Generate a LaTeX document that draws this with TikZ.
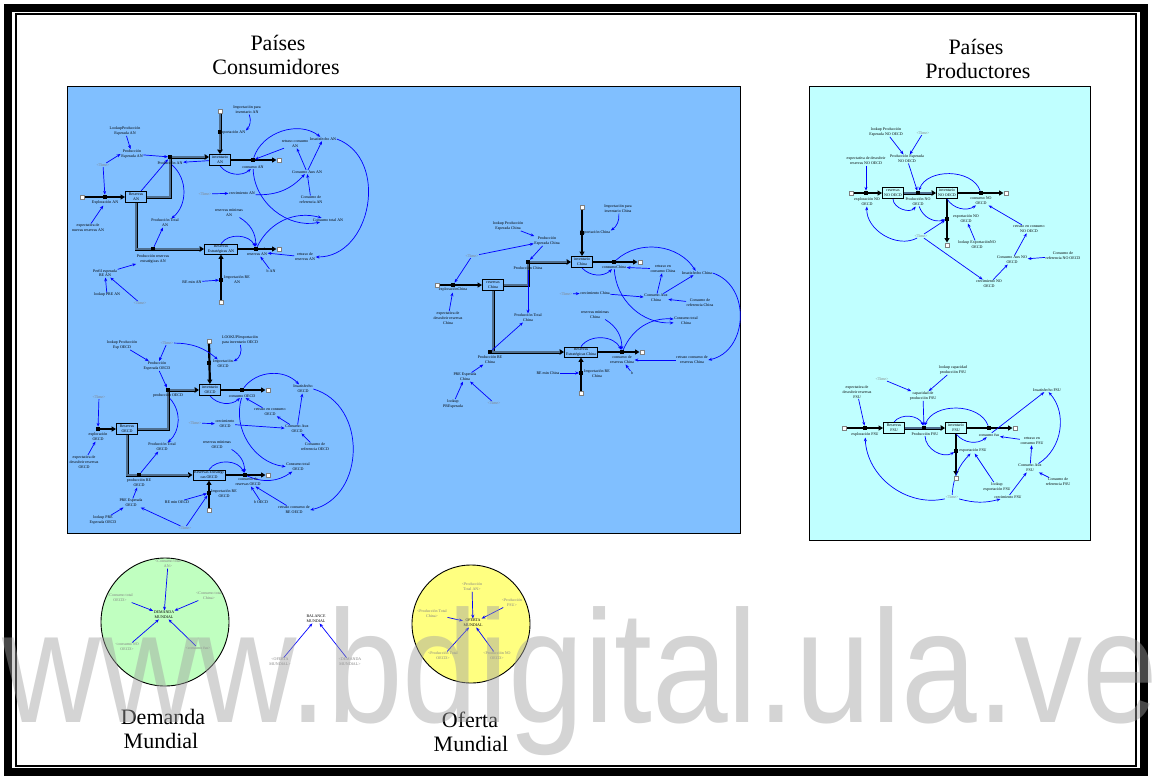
\documentclass[tikz,border=0pt]{standalone}
\usepackage{fontspec}
\setmainfont{Liberation Serif}
\newfontfamily\wmfont{Liberation Sans}
\usetikzlibrary{arrows.meta}
\definecolor{panelblue}{HTML}{80BFFF}
\definecolor{panelcyan}{HTML}{C0FFFF}
\definecolor{circgreen}{HTML}{C0FFC0}
\definecolor{circyellow}{HTML}{FFFF80}
\definecolor{linkblue}{HTML}{0000FF}
\definecolor{pipegray}{HTML}{4F6F90}
\definecolor{shadowgray}{HTML}{808080}
\definecolor{wmgray}{HTML}{A0A0A0}
\newcommand\tinyfont{\fontsize{4}{4.8}\selectfont}
\pgfdeclarelayer{back}
\pgfdeclarelayer{mid}
\pgfsetlayers{back,mid,main}
\tikzset{
 lbl/.style={font=\tinyfont, align=center, inner sep=0.5pt, text=black},
 glbl/.style={lbl, text=shadowgray},
 stock/.style={draw=black, line width=0.9pt, fill=panelblue, minimum width=21pt, minimum height=11pt, inner sep=0pt, font=\tinyfont, align=center},
 stockc/.style={stock, fill=panelcyan},
 valve/.style={fill=black, minimum width=3.5pt, minimum height=4.2pt, inner sep=0pt},
 cloudbox/.style={draw=gray, line width=0.5pt, fill=white, minimum size=4.5pt, inner sep=0pt},
 pipe/.style={draw=black, line width=2.2pt, -{Triangle[length=4.5pt,width=5pt]}},
 pipeg/.style={draw=black, line width=3pt, -{Triangle[length=4.5pt,width=5.5pt]}, postaction={draw=pipegray, line width=1.2pt, arrows=-, shorten >=4pt}},
 link/.style={draw=linkblue, line width=0.7pt, -{Stealth[length=3.8pt,width=3pt]}},
 title/.style={font=\fontsize{22}{24}\selectfont, inner sep=0pt, anchor=base},
 circ/.style={circle, draw=black, line width=0.9pt, inner sep=0pt},
}
\begin{document}
\begin{tikzpicture}[x=1pt,y=-1pt]
\useasboundingbox (0,0) rectangle (1152,780);
\begin{pgfonlayer}{back}
\fill[white] (0,0) rectangle (1152,780);
\draw[line width=8pt] (8,8) rectangle (1144,772);
\draw[line width=1.5pt] (16,14) rectangle (1136,766);
\draw[fill=panelblue, line width=0.6pt] (67,86) rectangle (740,533);
\draw[fill=panelcyan, line width=0.6pt] (809,86) rectangle (1090,540);
\node[circ, fill=circgreen, minimum size=128pt] (circD) at (165,622) {};
\node[circ, fill=circyellow, minimum size=118pt] (circO) at (471,624) {};
\end{pgfonlayer}

% titles
\node[title] (tCons1) at (278,50) {Países};
\node[title] (tCons2) at (276,74) {Consumidores};
\node[title] (tProd1) at (976,54) {Países};
\node[title] (tProd2) at (978,78) {Productores};
\node[title] (tDem1) at (163,724) {Demanda};
\node[title] (tDem2) at (161,748) {Mundial};
\node[title] (tOf1) at (470,727) {Oferta};
\node[title] (tOf2) at (471,751) {Mundial};

% ================= AN =================
\node[stock] (invAN) at (220,160) {inventario\\AN};
\node[stock] (resAN) at (136,197) {Reservas\\AN};
\node[stock, minimum width=33pt, minimum height=10pt] (reAN) at (221,249) {Reservas\\Estratégicas AN};
\node[cloudbox] (cAN1) at (82,197) {};
\node[cloudbox] (cAN2) at (220,111) {};
\node[cloudbox] (cAN3) at (279,160) {};
\node[cloudbox] (cAN4) at (279,249) {};
\node[cloudbox] (cAN5) at (221,302) {};
\node[valve] (vExpAN) at (105,197) {};
\node[valve] (vProdAN) at (170,157) {};
\node[valve] (vImpAN) at (220,132) {};
\node[valve] (vConsAN) at (253,160) {};
\node[valve] (vPREAN) at (153,249) {};
\node[valve] (vImpREAN) at (221,280) {};
\node[valve] (vConsREAN) at (256,249) {};
\node[lbl] (impParaInvAN) at (247,110) {Importación para\\inventario AN};
\node[lbl] (lImpAN) at (232,133) {Importación AN};
\node[lbl] (lookupPEAN) at (125,131) {LookupProducción\\Esperada AN};
\node[lbl] (peAN) at (132,154) {Producción\\Esperada AN};
\node[glbl] (timeA1) at (103,165) {<Time>};
\node[lbl] (lExpAN) at (105,203) {Exploración AN};
\node[lbl] (expectAN) at (88,228) {expectativa de\\nuevas reservas AN};
\node[lbl] (lProdAN) at (170,163) {Producción AN};
\node[lbl] (prodTotAN) at (165,223) {Producción Total\\AN};
\node[lbl] (lPREAN) at (153,259) {Producción reservas\\estratégicas AN};
\node[lbl] (perfilREAN) at (105,273) {Perfil esperada\\RE AN};
\node[lbl] (lookupPREAN) at (107,295) {lookup PRE AN};
\node[glbl] (timeA2) at (140,303) {<Time>};
\node[lbl] (lImpREAN) at (237,280) {Importación RE\\AN};
\node[lbl] (REminAN) at (192,282) {RE min AN};
\node[lbl] (resMinAN) at (229,213) {reservas mínimas\\AN};
\node[glbl] (timeA3) at (205,194) {<Time>};
\node[lbl] (crecAN) at (242,193) {crecimiento AN};
\node[lbl] (lConsAN) at (253,167) {consumo AN};
\node[lbl] (retConsAN) at (295,144) {retraso consumo\\AN};
\node[lbl] (insatAN) at (323,139) {Insatisfecho AN};
\node[lbl] (consAuxAN) at (307,172) {Consumo Aux AN};
\node[lbl] (consRefAN) at (311,200) {Consumo de\\referencia AN};
\node[lbl] (consTotAN) at (328,220) {Consumo total AN};
\node[lbl] (lConsREAN) at (257,252) {consumo de\\reservas AN};
\node[lbl] (retResAN) at (305,257) {retraso de\\reservas AN};
\node[lbl] (bAN) at (271,271) {b AN};

% ================= OECD =================
\node[stock] (invO) at (210,390) {inventario\\OECD};
\node[stock] (resO) at (127,429) {Reservas\\OECD};
\node[stock, minimum width=32pt, minimum height=10pt] (reO) at (209,475) {Reservas Estratégi\\cas OECD};
\node[cloudbox] (cO2) at (209,341) {};
\node[cloudbox] (cO3) at (268,390) {};
\node[cloudbox] (cO4) at (268,475) {};
\node[cloudbox] (cO5) at (209,510) {};
\node[valve] (vExpO) at (98,429) {};
\node[valve] (vProdO) at (168,390) {};
\node[valve] (vImpO) at (209,363) {};
\node[valve] (vConsO) at (242,390) {};
\node[valve] (vPREO) at (139,475) {};
\node[valve] (vImpREO) at (209,493) {};
\node[valve] (vConsREO) at (245,475) {};
\node[lbl] (lookupPEO) at (122,345) {lookup Producción\\Esp OECD};
\node[glbl] (timeO1) at (167,343) {<Time>};
\node[lbl] (peO) at (157,366) {Producción\\Esperada OECD};
\node[lbl] (lImpO) at (223,364) {Importación\\OECD};
\node[lbl] (lookupImpO) at (240,340) {LOOKUPImportación\\para inventario OECD};
\node[lbl] (lProdO) at (168,396) {producción OECD};
\node[glbl] (timeO2) at (99,397) {<Time>};
\node[lbl] (lExpO) at (98,437) {exploración\\OECD};
\node[lbl] (expectO) at (84,462) {expectativa de\\descubrir reservas\\OECD};
\node[lbl] (prodTotO) at (162,447) {Producción Total\\OECD};
\node[lbl] (lPREO) at (139,483) {producción RE\\OECD};
\node[lbl] (PREO) at (131,503) {PRE Esperada\\OECD};
\node[lbl] (lookupPREO) at (103,520) {lookup PRE\\Esperada OECD};
\node[glbl] (timeO3) at (185,528) {<Time>};
\node[lbl] (lImpREO) at (224,494) {Importación RE\\OECD};
\node[lbl] (REminO) at (177,502) {RE min OECD};
\node[lbl] (resMinO) at (217,445) {reservas mínimas\\OECD};
\node[glbl] (timeO4) at (195,423) {<Time>};
\node[lbl] (crecO) at (225,424) {crecimiento\\OECD};
\node[lbl] (lConsO) at (242,396) {consumo OECD};
\node[lbl] (insatO) at (303,389) {Insatisfecho\\OECD};
\node[lbl] (retConsO) at (270,412) {retraso en consumo\\OECD};
\node[lbl] (consAuxO) at (297,429) {Consumo Aux\\OECD};
\node[lbl] (consRefO) at (315,447) {Consumo de\\referencia OECD};
\node[lbl] (consTotO) at (298,467) {Consumo total\\OECD};
\node[lbl] (lConsREO) at (248,482) {consumo de\\reservas OECD};
\node[lbl] (bO) at (261,502) {b OECD};
\node[lbl] (retResO) at (294,510) {retraso consumo de\\RE OECD};

% ================= China =================
\node[stock] (invC) at (582,262) {inventario\\China};
\node[stock] (resC) at (493,285) {reservas\\China};
\node[stock, minimum width=33pt, minimum height=10pt] (reC) at (581,352) {Reservas\\Estratégicas China};
\node[cloudbox] (cC1) at (437,285) {};
\node[cloudbox] (cC2) at (582,207) {};
\node[cloudbox] (cC3) at (640,262) {};
\node[cloudbox] (cC4) at (642,352) {};
\node[cloudbox] (cC5) at (581,393) {};
\node[valve] (vExpC) at (453,285) {};
\node[valve] (vProdC) at (528,262) {};
\node[valve] (vImpC) at (582,233) {};
\node[valve] (vConsC) at (614,262) {};
\node[valve] (vPREC) at (490,352) {};
\node[valve] (vImpREC) at (581,373) {};
\node[valve] (vConsREC) at (622,352) {};
\node[lbl] (lookupPEC) at (508,226) {lookup Producción\\Esperada China};
\node[lbl] (PEC) at (547,241) {Producción\\Esperada China};
\node[glbl] (timeC1) at (472,256) {<Time>};
\node[lbl] (lExpC) at (453,290) {exploraciónChina};
\node[lbl] (expectC) at (448,318) {expectativa de\\descubrir reservas\\China};
\node[lbl] (lProdC) at (528,268) {Producción China};
\node[lbl] (prodTotC) at (528,318) {Producción Total\\China};
\node[lbl] (lPREC) at (490,360) {Producción RE\\China};
\node[lbl] (PREC) at (465,377) {PRE Esperada\\China};
\node[lbl] (lookupPREC) at (453,404) {lookup\\PREsperada};
\node[glbl] (timeC2) at (494,403) {<Time>};
\node[lbl] (REminC) at (548,373) {RE min China};
\node[glbl] (timeC3) at (566,294) {<Time>};
\node[lbl] (crecC) at (595,293) {crecimiento China};
\node[lbl] (impParaInvC) at (618,209) {Importación para\\inventario China};
\node[lbl] (lImpC) at (595,233) {Importación China};
\node[lbl] (lConsC) at (614,267) {consumoChina};
\node[lbl] (retConsC) at (663,269) {retraso en\\consumo China};
\node[lbl] (insatC) at (697,273) {Insatisfecho China};
\node[lbl] (consAuxC) at (656,298) {Consumo Aux\\China};
\node[lbl] (consRefC) at (700,303) {Consumo de\\referencia China};
\node[lbl] (consTotC) at (686,321) {Consumo total\\China};
\node[lbl] (resMinC) at (595,315) {reservas mínimas\\China};
\node[lbl] (lConsREC) at (622,360) {consumo de\\reservas China};
\node[lbl] (retResC) at (692,360) {retraso consumo de\\reservas China};
\node[lbl] (bC) at (632,373) {b};
\node[lbl] (lImpREC) at (597,374) {Importación RE\\China};

% ================= NO OECD =================
\node[stockc] (resN) at (893,193) {reservas\\NO OECD};
\node[stockc] (invN) at (947,193) {inventario\\NO OECD};
\node[cloudbox] (cN1) at (851,193) {};
\node[cloudbox] (cN2) at (1006,193) {};
\node[cloudbox] (cN3) at (947,245) {};
\node[valve] (vExpN) at (866,193) {};
\node[valve] (vProdN) at (918,193) {};
\node[valve] (vConsN) at (981,193) {};
\node[valve] (vExportN) at (947,219) {};
\node[lbl] (lookupPEN) at (886,132) {lookup Producción\\Esperada NO OECD};
\node[glbl] (timeN1) at (923,133) {<Time>};
\node[lbl] (PEN) at (907,159) {Producción Esperada\\NO OECD};
\node[lbl] (expectN) at (866,161) {expectativa de descubrir\\reservas NO OECD};
\node[lbl] (lExpN) at (867,202) {exploración NO\\OECD};
\node[lbl] (lProdN) at (918,202) {Producción NO\\OECD};
\node[glbl] (timeN2) at (921,236) {<Time>};
\node[lbl] (lConsN) at (981,201) {consumo NO\\OECD};
\node[lbl] (lExportN) at (966,219) {exportación NO\\OECD};
\node[lbl] (lookupExpN) at (977,245) {lookup ExportaciónNO\\OECD};
\node[lbl] (retConsN) at (1029,229) {retraso en consumo\\NO OECD};
\node[lbl] (consAuxN) at (1012,260) {Consumo Aux NO\\OECD};
\node[lbl] (consRefN) at (1063,256) {Consumo de\\referencia NO OECD};
\node[lbl] (crecN) at (989,284) {crecimiento NO\\OECD};

% ================= FSU =================
\node[stockc] (resF) at (894,428) {Reservas\\FSU};
\node[stockc] (invF) at (956,428) {inventario\\FSU};
\node[cloudbox] (cF1) at (844,428) {};
\node[cloudbox] (cF2) at (1015,428) {};
\node[cloudbox] (cF3) at (956,478) {};
\node[valve] (vExpF) at (865,428) {};
\node[valve] (vProdF) at (924,428) {};
\node[valve] (vConsF) at (989,428) {};
\node[valve] (vExportF) at (956,451) {};
\node[glbl] (timeF1) at (882,379) {<Time>};
\node[lbl] (lookupCapF) at (953,370) {lookup capacidad\\producción FSU};
\node[lbl] (capF) at (923,396) {capacidad de\\producción FSU};
\node[lbl] (expectF) at (857,392) {expectativa de\\descubrir reservas\\FSU};
\node[lbl] (lExpF) at (865,435) {exploración FSU};
\node[lbl] (lProdF) at (925,434) {Producción FSU};
\node[lbl] (lConsF) at (989,435) {consumo fsu};
\node[lbl] (insatF) at (1047,390) {Insatisfecho FSU};
\node[lbl] (retConsF) at (1032,441) {retraso en\\consumo FSU};
\node[lbl] (consAuxF) at (1030,468) {Consumo Aux\\FSU};
\node[lbl] (consRefF) at (1058,482) {Consumo de\\referencia FSU};
\node[lbl] (lExportF) at (973,451) {exportación FSU};
\node[lbl] (lookupExpF) at (997,487) {lookup\\exportación FSU};
\node[glbl] (timeF2) at (952,497) {<Time>};
\node[lbl] (crecF) at (1008,497) {crecimiento FSU};

% ================= bottom =================
\node[glbl] (ctAN) at (168,564) {<Consumo total\\AN>};
\node[glbl] (ctO) at (120,598) {<Consumo total\\OECD>};
\node[glbl] (ctC) at (209,596) {<Consumo total\\China>};
\node[lbl] (DM) at (164,615) {DEMANDA\\MUNDIAL};
\node[glbl] (cNOs) at (127,647) {<consumo NO\\OECD>};
\node[glbl] (cFs) at (198,648) {<consumo fsu>};
\node[lbl] (BM) at (316,619) {BALANCE\\MUNDIAL};
\node[glbl] (OMs) at (280,662) {<OFERTA\\MUNDIAL>};
\node[glbl] (DMs) at (350,662) {<DEMANDA\\MUNDIAL>};
\node[glbl] (ptAN) at (472,587) {<Producción\\Total AN>};
\node[glbl] (pFSU) at (512,603) {<Producción\\FSU>};
\node[glbl] (ptC) at (432,614) {<Producción Total\\China>};
\node[lbl] (OM) at (473,623) {OFERTA\\MUNDIAL};
\node[glbl] (ptO) at (443,656) {<Producción Total\\OECD>};
\node[glbl] (pNO) at (497,656) {<Producción NO\\OECD>};

\begin{pgfonlayer}{mid}
% pipes
\draw[pipe] (cAN1) -- (resAN);
\draw[pipeg] (resAN.east) -| (vProdAN.center) -- (vProdAN -| invAN.west);
\draw[pipeg] (cAN2) -- (invAN);
\draw[pipe] (invAN) -- (cAN3);
\draw[pipeg] (resAN.south) |- (reAN.west);
\draw[pipe] (reAN) -- (cAN4);
\draw[pipe] (cAN5) -- (reAN);
\draw[pipe] (vExpO) -- (resO);
\draw[pipeg] (resO.east) -| (vProdO.center) -- (invO.west);
\draw[pipe] (cO2) -- (invO);
\draw[pipe] (invO) -- (cO3);
\draw[pipeg] (resO.south) |- (reO.west);
\draw[pipe] (reO) -- (cO4);
\draw[pipe] (cO5) -- (reO);
\draw[pipe] (cC1) -- (resC);
\draw[pipeg] (resC.east) -| (vProdC.center) -- (invC.west);
\draw[pipe] (cC2) -- (invC);
\draw[pipe] (invC) -- (cC3);
\draw[pipeg] (resC.south) |- (reC.west);
\draw[pipe] (reC) -- (cC4);
\draw[pipe] (cC5) -- (reC);
\draw[pipe] (cN1) -- (resN);
\draw[pipeg] (resN) -- (invN);
\draw[pipe] (invN) -- (cN2);
\draw[pipe] (invN) -- (cN3);
\draw[pipe] (cF1) -- (resF);
\draw[pipeg] (resF) -- (invF);
\draw[pipe] (invF) -- (cF2);
\draw[pipe] (invF) -- (cF3);

% links AN
\draw[link] (impParaInvAN) to[bend left=30] (lImpAN.north east);
\draw[link] (lookupPEAN) -- (peAN);
\draw[link] (timeA1) -- (peAN.west);
\draw[link] (peAN) -- (vProdAN);
\draw[link] (timeA1) -- (vExpAN);
\draw[link] (expectAN) -- (lExpAN);
\draw[link] (resAN) -- (vProdAN);
\draw[link] (invAN) -- (lProdAN);
\draw[link] (lProdAN) to[bend left=50] (prodTotAN);
\draw[link] (vPREAN) -- (prodTotAN);
\draw[link] (perfilREAN) -- (lPREAN);
\draw[link] (lookupPREAN) -- (perfilREAN);
\draw[link] (timeA2) -- (perfilREAN);
\draw[link] (REminAN) -- (vImpREAN);
\draw[link] (invAN.south) to[bend right=45] (lConsAN);
\draw[link] (timeA3) -- (crecAN);
\draw[link] (crecAN) to[bend right=25] (consAuxAN);
\draw[link] (consAuxAN) -- (retConsAN);
\draw[link] (consAuxAN) -- (insatAN);
\draw[link] (consRefAN) -- (consAuxAN);
\draw[link] (retConsAN) -- (vConsAN);
\draw[link] (vConsAN) to[bend left=55] (insatAN);
\draw[link] (lConsAN) to[bend right=50] (consTotAN);
\draw[link] (vConsREAN) to[bend left=40] (consTotAN);
\draw[link] (insatAN.east) to[bend left=80, looseness=1.2] (retResAN.east);
\draw[link] (retResAN) -- (lConsREAN);
\draw[link] (bAN) -- (lConsREAN);
\draw[link] (resMinAN) to[bend left=30] (vConsREAN);
\draw[link] (reAN.north) to[bend left=60] (vConsREAN);

% links OECD
\draw[link] (lookupPEO) -- (peO);
\draw[link] (timeO1) -- (peO);
\draw[link] (timeO1) to[bend left=20] (lImpO);
\draw[link] (lookupImpO) to[bend left=40] (lImpO);
\draw[link] (peO) -- (vProdO);
\draw[link] (lProdO) to[bend left=45] (prodTotO);
\draw[link] (vPREO) -- (prodTotO);
\draw[link] (PREO) -- (lPREO);
\draw[link] (lookupPREO) -- (PREO);
\draw[link] (timeO3) -- (PREO);
\draw[link] (timeO3) -- (vImpREO);
\draw[link] (REminO) -- (vImpREO);
\draw[link] (timeO2) -- (vExpO);
\draw[link] (expectO) -- (lExpO);
\draw[link] (invO.south) to[bend right=45] (lConsO);
\draw[link] (timeO4) -- (crecO);
\draw[link] (crecO) -- (consAuxO);
\draw[link] (consAuxO) -- (retConsO);
\draw[link] (consAuxO) -- (insatO);
\draw[link] (consRefO) -- (consAuxO);
\draw[link] (retConsO) -- (lConsO);
\draw[link] (vConsO) to[bend left=50] (insatO);
\draw[link] (lConsO) to[bend right=50] (consTotO);
\draw[link] (vConsREO) to[bend right=30] (consTotO);
\draw[link] (insatO.east) to[bend left=75, looseness=1.2] (retResO.east);
\draw[link] (retResO) -- (lConsREO);
\draw[link] (bO) -- (lConsREO);
\draw[link] (resMinO) to[bend left=30] (vConsREO);
\draw[link] (reO.north) to[bend left=60] (vConsREO);

% links China
\draw[link] (lookupPEC) -- (PEC);
\draw[link] (timeC1) -- (PEC);
\draw[link] (timeC1) -- (vExpC);
\draw[link] (expectC) -- (lExpC);
\draw[link] (PEC) -- (vProdC);
\draw[link] (lProdC) -- (prodTotC);
\draw[link] (vPREC) -- (prodTotC);
\draw[link] (PREC) -- (lPREC);
\draw[link] (lookupPREC) -- (PREC);
\draw[link] (timeC2) -- (PREC);
\draw[link] (REminC) -- (vImpREC);
\draw[link] (timeC3) -- (crecC);
\draw[link] (crecC) -- (consAuxC);
\draw[link] (consAuxC) -- (retConsC);
\draw[link] (consAuxC) -- (insatC);
\draw[link] (consRefC) -- (consAuxC);
\draw[link] (retConsC) -- (lConsC);
\draw[link] (invC.south) to[bend right=45] (lConsC);
\draw[link] (vConsC) to[bend left=50] (insatC);
\draw[link] (lConsC) to[bend right=45] (consTotC);
\draw[link] (vConsREC) to[bend left=35] (consTotC);
\draw[link] (insatC.east) to[bend left=75, looseness=1.2] (retResC.east);
\draw[link] (retResC) -- (lConsREC);
\draw[link] (bC) -- (lConsREC);
\draw[link] (resMinC) to[bend left=30] (vConsREC);
\draw[link] (reC.north) to[bend left=60] (vConsREC);
\draw[link] (impParaInvC) to[bend left=30] (lImpC.north east);

% links NO OECD
\draw[link] (lookupPEN) -- (PEN);
\draw[link] (timeN1) -- (PEN);
\draw[link] (PEN) -- (vProdN);
\draw[link] (expectN) -- (vExpN);
\draw[link] (resN.south) to[bend right=70] (lProdN);
\draw[link] (vConsN) to[bend right=70] (vProdN);
\draw[link] (invN.south) to[bend right=45] (lConsN);
\draw[link] (lProdN) to[bend right=45] (vExportN);
\draw[link] (timeN2) to[bend left=60] (lExpN);
\draw[link] (timeN2) -- (vExportN);
\draw[link] (timeN2) -- (crecN);
\draw[link] (crecN) -- (consAuxN);
\draw[link] (consAuxN) -- (retConsN);
\draw[link] (retConsN) -- (lConsN);
\draw[link] (consRefN) -- (consAuxN);
\draw[link] (lookupExpN) -- (lExportN);

% links FSU
\draw[link] (timeF1) -- (capF);
\draw[link] (lookupCapF) -- (capF);
\draw[link] (capF) -- (vProdF);
\draw[link] (expectF) -- (vExpF);
\draw[link] (resF.north) to[bend left=60] (vProdF);
\draw[link] (vConsF) to[bend right=70] (vProdF);
\draw[link] (lProdF) to[bend right=60] (vExportF);
\draw[link] (invF.south) to[bend right=45] (lConsF);
\draw[link] (lConsF) -- (insatF);
\draw[link] (retConsF) -- (lConsF);
\draw[link] (consAuxF) -- (retConsF);
\draw[link] (consAuxF) to[bend right=50] (insatF);
\draw[link] (consRefF) -- (consAuxF);
\draw[link] (crecF) -- (consAuxF);
\draw[link] (timeF2) to[bend right=15] (crecF);
\draw[link] (timeF2) to[bend left=50] (lExpF);
\draw[link] (timeF2) to[bend left=20] (lExportF);
\draw[link] (lookupExpF) -- (lExportF);

% links bottom
\draw[link] (ctAN) -- (DM);
\draw[link] (ctO) -- (DM);
\draw[link] (ctC) -- (DM);
\draw[link] (cNOs) -- (DM);
\draw[link] (cFs) -- (DM);
\draw[link] (OMs) -- (BM);
\draw[link] (DMs) -- (BM);
\draw[link] (ptAN) -- (OM);
\draw[link] (pFSU) -- (OM);
\draw[link] (ptC) -- (OM);
\draw[link] (ptO) -- (OM);
\draw[link] (pNO) -- (OM);
\end{pgfonlayer}

% watermark
\node[anchor=base west, inner sep=0pt, text=wmgray, text opacity=0.45, font=\wmfont\fontsize{160}{160}\selectfont] (wm) at (2,722) {\scalebox{0.85}[1]{www.bdigital.ula.ve}};
\end{tikzpicture}
\end{document}
